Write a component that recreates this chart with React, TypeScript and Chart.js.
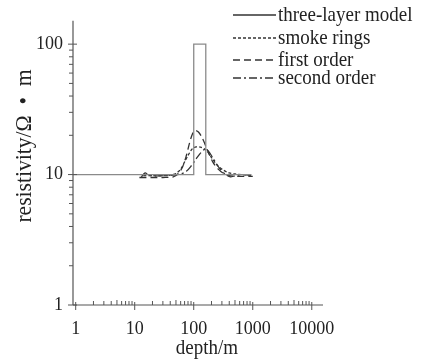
import React, { useEffect, useRef } from "react";
import { Chart, registerables } from "chart.js";

Chart.register(...registerables);

const modelX = [0.9, 100, 100, 160, 160, 950];
const modelY = [10, 10, 100, 100, 10, 10];

const smokeX = [14, 20, 30, 40, 50, 60, 70, 80, 95, 110, 130, 160, 200, 250, 320, 400, 500, 650, 850, 1000];
const smokeY = [9.8, 9.8, 9.8, 9.9, 10.2, 11, 12.5, 14, 15.8, 16.3, 16.2, 15.5, 13.5, 11.8, 10.8, 10.3, 10.1, 10, 9.9, 9.8];

const firstX = [12, 20, 30, 45, 55, 65, 75, 85, 95, 105, 120, 140, 170, 210, 260, 320, 400, 500, 700, 1000];
const firstY = [9.5, 9.5, 9.5, 9.6, 10.2, 11.5, 14, 17.5, 20.5, 21.8, 21.2, 19, 15.5, 12.5, 11, 10.2, 9.8, 9.7, 9.7, 9.7];

const secondX = [13, 15, 17, 20, 30, 45, 60, 75, 90, 110, 130, 155, 180, 220, 280, 350, 420, 500, 700, 1000];
const secondY = [9.6, 10.3, 9.9, 9.8, 9.8, 9.9, 10.1, 10.6, 11.6, 13.2, 14.6, 15.6, 15, 13, 11, 10, 9.6, 9.8, 10, 9.8];

const xTicks = [1, 10, 100, 1000, 10000];
const yTicks = [1, 10, 100];

const seriesNames = ["three-layer model", "smoke rings", "first order", "second order"];
const xTitle = "depth/m";
const yTitle = "resistivity/Ω  •  m";

const FONT = "'Liberation Serif', 'DejaVu Serif', serif";
const AXIS = "#555";
const TEXT = "#222";

const pts = (xs: number[], ys: number[]) => xs.map((x, i) => ({ x, y: ys[i] }));

const dashes = [[], [3, 2], [7, 4], [8, 3, 2, 3]];
const colors = ["#8a8a8a", "#333", "#333", "#333"];

const stretchText = (ctx: any, text: string, x: number, y: number, sy: number) => {
  ctx.save();
  ctx.translate(x, y);
  ctx.scale(1, sy);
  ctx.fillText(text, 0, 0);
  ctx.restore();
};

const decoPlugin = {
  id: "deco",
  afterDraw(chart: any) {
    const ctx = chart.ctx;
    const xs = chart.scales.x;
    const ys = chart.scales.y;
    const { left, right, top, bottom } = chart.chartArea;
    ctx.save();
    ctx.strokeStyle = AXIS;
    ctx.lineWidth = 1.2;
    ctx.setLineDash([]);
    ctx.beginPath();
    ctx.moveTo(left, top);
    ctx.lineTo(left, bottom);
    ctx.moveTo(left, bottom);
    ctx.lineTo(right, bottom);
    ctx.stroke();
    ctx.lineWidth = 1;
    for (let d = 0; d < 5; d++) {
      const base = Math.pow(10, d);
      for (let m = 1; m <= 9; m++) {
        const px = xs.getPixelForValue(base * m);
        if (px < left - 0.5 || px > right + 0.5) continue;
        ctx.beginPath();
        if (m === 1) {
          ctx.moveTo(px, bottom - 3);
          ctx.lineTo(px, bottom + 5);
        } else if (m === 5) {
          ctx.moveTo(px, bottom);
          ctx.lineTo(px, bottom - 5);
        } else {
          ctx.moveTo(px, bottom);
          ctx.lineTo(px, bottom - 4);
        }
        ctx.stroke();
      }
    }
    for (let d = 0; d < 3; d++) {
      const base = Math.pow(10, d);
      for (let m = 1; m <= 9; m++) {
        const py = ys.getPixelForValue(base * m);
        if (py < top - 0.5 || py > bottom + 0.5) continue;
        ctx.beginPath();
        if (m === 1) {
          ctx.moveTo(left - 5, py);
          ctx.lineTo(left + 4, py);
        } else {
          ctx.moveTo(left - 4, py);
          ctx.lineTo(left, py);
        }
        ctx.stroke();
      }
    }
    ctx.fillStyle = TEXT;
    ctx.font = `19px ${FONT}`;
    ctx.textAlign = "center";
    ctx.textBaseline = "middle";
    stretchText(ctx, xTitle, 207, 348, 1.15);
    ctx.save();
    ctx.translate(25, 146);
    ctx.rotate(-Math.PI / 2);
    ctx.font = `20px ${FONT}`;
    ctx.scale(1.08, 1.15);
    ctx.fillText(yTitle, 0, 0);
    ctx.restore();
    const rows = [15, 38, 60, 78];
    ctx.font = `19px ${FONT}`;
    ctx.textAlign = "left";
    chart.data.datasets.forEach((ds: any, i: number) => {
      const y = rows[i];
      ctx.strokeStyle = "#333";
      ctx.lineWidth = 1.3;
      ctx.setLineDash(dashes[i]);
      ctx.beginPath();
      ctx.moveTo(233, y);
      ctx.lineTo(276, y);
      ctx.stroke();
      ctx.setLineDash([]);
      ctx.fillStyle = TEXT;
      stretchText(ctx, ds.label, 278, y, 1.15);
    });
    ctx.restore();
  },
};

export default function App() {
  const ref = useRef<HTMLCanvasElement>(null);
  useEffect(() => {
    document.body.style.margin = "0";
    const allX = [modelX, smokeX, firstX, secondX];
    const allY = [modelY, smokeY, firstY, secondY];
    const chart = new Chart(ref.current!, {
      type: "line",
      data: {
        datasets: seriesNames.map((name, i) => ({
          label: name,
          data: pts(allX[i], allY[i]),
          borderColor: colors[i],
          borderWidth: 1.3,
          borderDash: dashes[i],
          pointRadius: 0,
          tension: i === 0 ? 0 : 0.3,
          fill: false,
        })),
      },
      options: {
        animation: false,
        responsive: false,
        layout: { padding: { top: 13, right: 99, left: 0, bottom: 0 } },
        plugins: { legend: { display: false }, tooltip: { enabled: false } },
        scales: {
          x: {
            type: "logarithmic",
            min: 0.9,
            max: 15500,
            grid: { display: false, drawTicks: false },
            border: { display: false },
            afterBuildTicks: (s: any) => {
              s.ticks = xTicks.map((v) => ({ value: v }));
            },
            afterFit: (s: any) => {
              s.height = 58;
            },
            ticks: {
              autoSkip: false,
              maxRotation: 0,
              padding: 13,
              color: TEXT,
              font: { family: FONT, size: 18 },
              callback: (v: any) => String(v),
            },
          },
          y: {
            type: "logarithmic",
            min: 1,
            max: 151,
            grid: { display: false, drawTicks: false },
            border: { display: false },
            afterBuildTicks: (s: any) => {
              s.ticks = yTicks.map((v) => ({ value: v }));
            },
            afterFit: (s: any) => {
              s.width = 73;
            },
            ticks: {
              autoSkip: false,
              padding: 10,
              color: TEXT,
              font: { family: FONT, size: 18 },
              callback: (v: any) => String(v),
            },
          },
        },
      } as any,
      plugins: [decoPlugin],
    });
    return () => chart.destroy();
  }, []);
  return (
    <div style={{ position: "absolute", left: 0, top: 0, width: 422, height: 363, background: "#fff" }}>
      <canvas ref={ref} width={422} height={363} />
    </div>
  );
}
